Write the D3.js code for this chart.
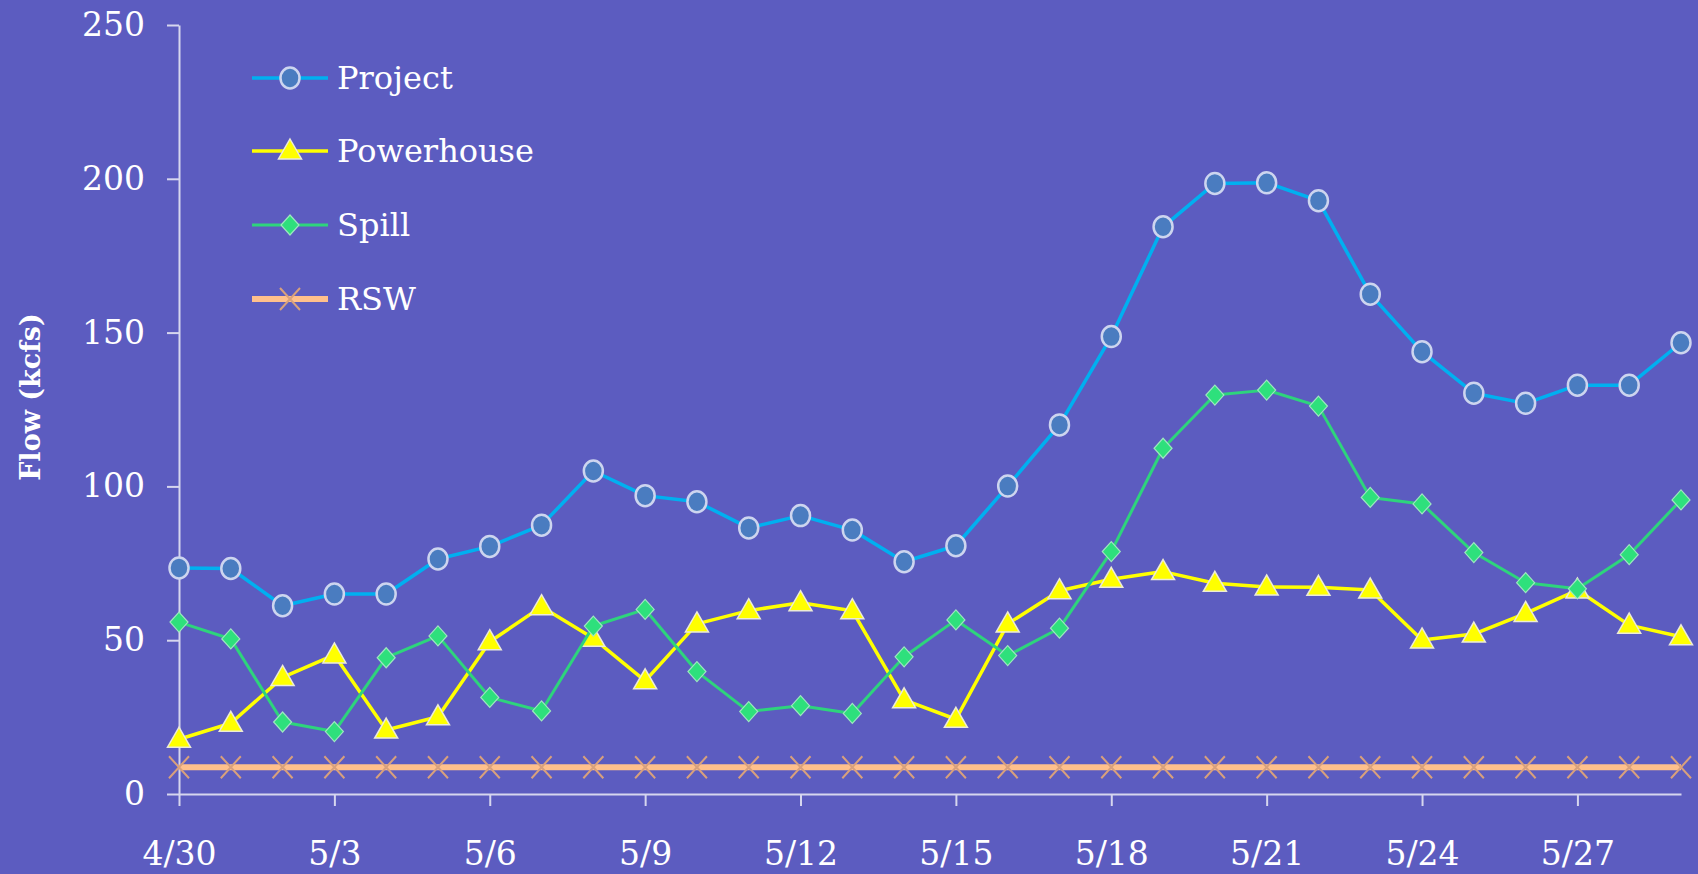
<!DOCTYPE html>
<html>
<head>
<meta charset="utf-8">
<script src="https://cdn.jsdelivr.net/npm/d3@7"></script>
<style>
  html, body { margin: 0; padding: 0; background: #5c5cc0; }
  svg { display: block; }
</style>
</head>
<body>
<div id="chart"></div>
<script>
var dates = ["4/30","5/1","5/2","5/3","5/4","5/5","5/6","5/7","5/8","5/9",
  "5/10","5/11","5/12","5/13","5/14","5/15","5/16","5/17","5/18","5/19",
  "5/20","5/21","5/22","5/23","5/24","5/25","5/26","5/27","5/28","5/29"];
var xTickLabels = ["4/30","5/3","5/6","5/9","5/12","5/15","5/18","5/21","5/24","5/27"];
var yTicks = [0, 50, 100, 150, 200, 250];

var project = [73.5, 73.3, 61.2, 65.0, 65.0, 76.4, 80.5, 87.4, 105.0, 97.0,
  95.0, 86.5, 90.5, 85.8, 75.5, 80.7, 100.1, 120.0, 148.7, 184.4,
  198.5, 198.7, 192.9, 162.5, 143.8, 130.3, 127.0, 132.9, 132.9, 146.7];
var powerhouse = [17.8, 23.0, 37.9, 45.2, 20.8, 25.1, 49.5, 60.9, 50.6, 36.8,
  55.3, 59.6, 62.2, 59.6, 30.6, 24.3, 55.3, 66.1, 69.8, 72.3,
  68.5, 67.3, 67.2, 66.3, 50.1, 52.0, 58.7, 66.3, 54.9, 51.1];
var spill = [55.9, 50.4, 23.4, 20.3, 44.3, 51.4, 31.4, 27.0, 54.6, 60.0,
  39.8, 26.8, 28.7, 26.2, 44.6, 56.6, 45.0, 53.9, 78.8, 112.4,
  129.7, 131.3, 126.1, 96.4, 94.3, 78.5, 68.7, 66.7, 77.8, 95.6];
var rsw = [8.7, 8.7, 8.7, 8.7, 8.7, 8.7, 8.7, 8.7, 8.7, 8.7,
  8.7, 8.7, 8.7, 8.7, 8.7, 8.7, 8.7, 8.7, 8.7, 8.7,
  8.7, 8.7, 8.7, 8.7, 8.7, 8.7, 8.7, 8.7, 8.7, 8.7];
var seriesNames = ["Project", "Powerhouse", "Spill", "RSW"];

var width = 1698,
  height = 874;
var bg = "#5c5cc0",
  axisColor = "#d6d6ee",
  font = "'DejaVu Serif', serif";

var svg = d3.select("#chart").append("svg").attr("width", width).attr("height", height);
svg.append("rect").attr("width", width).attr("height", height).attr("fill", bg);

var x = d3.scalePoint().domain(dates).range([179, 1681]);
var y = d3.scaleLinear().domain([0, 250]).range([794, 25]);

// y axis
var yAxis = svg
  .append("g")
  .attr("transform", "translate(179,0)")
  .call(d3.axisLeft(y).tickValues(yTicks).tickSize(12).tickSizeOuter(0).tickPadding(22));
yAxis.select(".domain").attr("stroke", axisColor).attr("stroke-width", 2);
yAxis.selectAll(".tick line").attr("stroke", axisColor).attr("stroke-width", 2);
yAxis
  .selectAll(".tick text")
  .attr("fill", "#ffffff")
  .style("font-family", font)
  .style("font-size", "33px");

// x axis
var xAxis = svg
  .append("g")
  .attr("transform", "translate(0,794)")
  .call(d3.axisBottom(x).tickValues(xTickLabels).tickSize(12).tickSizeOuter(0).tickPadding(36));
xAxis.select(".domain").attr("stroke", axisColor).attr("stroke-width", 2);
xAxis.selectAll(".tick line").attr("stroke", axisColor).attr("stroke-width", 2);
xAxis
  .selectAll(".tick text")
  .attr("fill", "#ffffff")
  .style("font-family", font)
  .style("font-size", "33px");

// axis title
svg
  .append("text")
  .attr("transform", "translate(40,397) rotate(-90)")
  .attr("text-anchor", "middle")
  .attr("fill", "#ffffff")
  .style("font-family", font)
  .style("font-weight", "bold")
  .style("font-size", "27px")
  .text("Flow (kcfs)");

var styles = {
  Project: { values: project, line: "#00b0f0", width: 3.5, marker: "circle" },
  Powerhouse: { values: powerhouse, line: "#ffff00", width: 3.5, marker: "triangle" },
  Spill: { values: spill, line: "#2ed47c", width: 3, marker: "diamond" },
  RSW: { values: rsw, line: "#ffc08c", width: 6, marker: "cross" }
};

function drawMarker(g, type, cx, cy) {
  if (type === "circle") {
    g.append("ellipse")
      .attr("cx", cx).attr("cy", cy).attr("rx", 9.5).attr("ry", 10.5)
      .attr("fill", "#4a7cc0").attr("stroke", "#cdd5ef").attr("stroke-width", 2.5);
  } else if (type === "triangle") {
    g.append("path")
      .attr("d", "M" + cx + "," + (cy - 12) + "L" + (cx + 11.5) + "," + (cy + 8) + "L" + (cx - 11.5) + "," + (cy + 8) + "Z")
      .attr("fill", "#ffff00").attr("stroke", "#ecebd6").attr("stroke-width", 1.5);
  } else if (type === "diamond") {
    g.append("path")
      .attr("d", "M" + cx + "," + (cy - 10) + "L" + (cx + 9) + "," + cy + "L" + cx + "," + (cy + 10) + "L" + (cx - 9) + "," + cy + "Z")
      .attr("fill", "#2ee07c").attr("stroke", "#9ee6c0").attr("stroke-width", 1.2);
  } else {
    g.append("path")
      .attr("d", "M" + (cx - 10) + "," + (cy - 11) + "L" + (cx + 10) + "," + (cy + 11) + "M" + (cx + 10) + "," + (cy - 11) + "L" + (cx - 10) + "," + (cy + 11))
      .attr("stroke", "#d8a07c").attr("stroke-width", 2).attr("fill", "none");
  }
}

var line = d3
  .line()
  .x(function (d, i) { return x(dates[i]); })
  .y(function (d) { return y(d); });

seriesNames.forEach(function (name) {
  var s = styles[name];
  var g = svg.append("g").attr("class", "series");
  g.append("path")
    .attr("d", line(s.values))
    .attr("fill", "none")
    .attr("stroke", s.line)
    .attr("stroke-width", s.width)
    .attr("stroke-linejoin", "round");
  s.values.forEach(function (v, i) {
    drawMarker(g, s.marker, x(dates[i]), y(v));
  });
});

// legend
var legendY = [78, 151, 225, 299];
seriesNames.forEach(function (name, i) {
  var s = styles[name];
  var g = svg.append("g").attr("class", "legend");
  g.append("line")
    .attr("x1", 252).attr("x2", 328)
    .attr("y1", legendY[i]).attr("y2", legendY[i])
    .attr("stroke", s.line).attr("stroke-width", s.width);
  drawMarker(g, s.marker, 290, legendY[i]);
  g.append("text")
    .attr("x", 337)
    .attr("y", legendY[i])
    .attr("dy", "0.35em")
    .attr("fill", "#ffffff")
    .style("font-family", font)
    .style("font-size", "32px")
    .text(name);
});
</script>
</body>
</html>
